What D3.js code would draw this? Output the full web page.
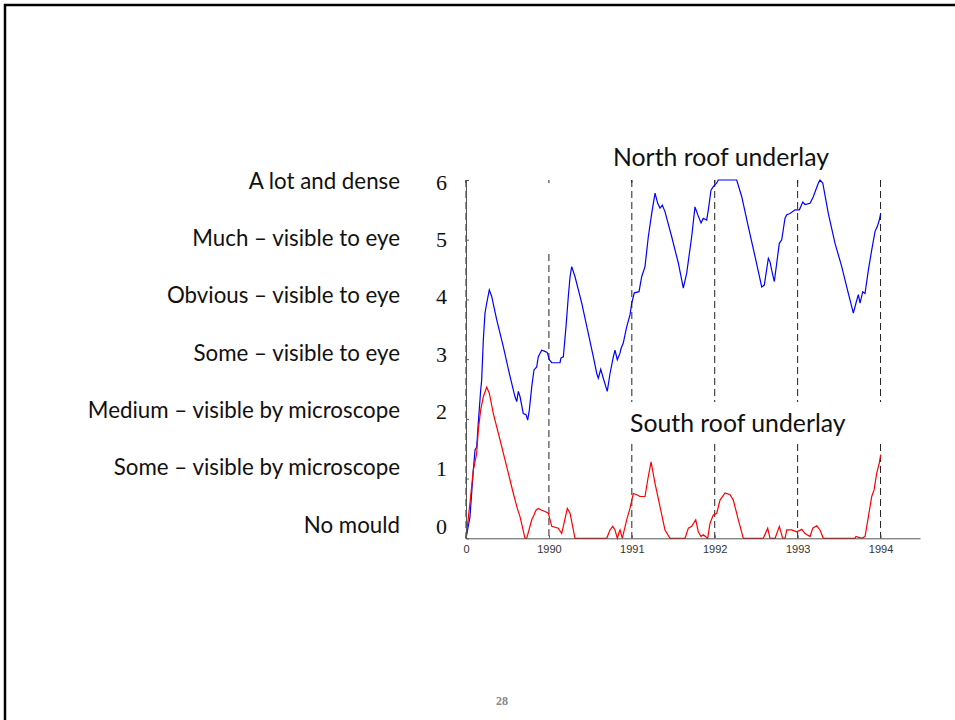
<!doctype html>
<html lang="en">
  <head>
    <title>Mould growth in roof underlay</title>
    <style>
      body {
        margin: 0;
        background: #fff;
      }
      svg {
        display: block;
      }
      .cat {
        font-family: Lato, "Open Sans", sans-serif;
        font-size: 22.3px;
        fill: #111;
      }
      .ttl {
        font-family: Lato, "Open Sans", sans-serif;
        font-size: 24.8px;
        fill: #111;
      }
    </style>
  </head>
  <body>
    <div id="chart"></div>

    <script src="https://cdn.jsdelivr.net/npm/d3@7"></script>
    <script>
      // mould levels, bottom to top
      const levels = [
        'No mould',
        'Some \u2013 visible by microscope',
        'Medium \u2013 visible by microscope',
        'Some \u2013 visible to eye',
        'Obvious \u2013 visible to eye',
        'Much \u2013 visible to eye',
        'A lot and dense'
      ]
      const levelNumbers = ['0', '1', '2', '3', '4', '5', '6']
      const yearTicks = [0, 1, 2, 3, 4, 5]
      const yearLabels = ['0', '1990', '1991', '1992', '1993', '1994']

      // [years since start, mould level]
      const northRoof = [
        [0, 0], [0.048, 0.36], [0.088, 1.14], [0.109, 1.48], [0.129, 1.53], [0.148, 1.93],
        [0.177, 2.48], [0.189, 2.65], [0.209, 3.32], [0.229, 3.77], [0.25, 3.94], [0.281, 4.16],
        [0.31, 4.05], [0.37, 3.66], [0.45, 3.21], [0.531, 2.71], [0.591, 2.37], [0.612, 2.29],
        [0.631, 2.46], [0.652, 2.37], [0.691, 2.09], [0.724, 2.07], [0.744, 1.98], [0.764, 2.15],
        [0.793, 2.54], [0.82, 2.82], [0.853, 2.87], [0.872, 3.04], [0.913, 3.15], [0.953, 3.13],
        [0.981, 3.11], [1.005, 2.99], [1.034, 2.94], [1.134, 2.94], [1.146, 3.02], [1.174, 3.04],
        [1.206, 3.54], [1.234, 4.05], [1.255, 4.38], [1.275, 4.55], [1.315, 4.38], [1.396, 3.94],
        [1.475, 3.43], [1.536, 3.04], [1.577, 2.76], [1.596, 2.68], [1.625, 2.83], [1.656, 2.68],
        [1.704, 2.46], [1.737, 2.76], [1.777, 3.04], [1.797, 3.15], [1.825, 2.99], [1.858, 3.1],
        [1.87, 3.18], [1.897, 3.27], [1.938, 3.54], [1.978, 3.74], [1.999, 3.94], [2.03, 4.11],
        [2.087, 4.13], [2.119, 4.38], [2.159, 4.55], [2.199, 5.05], [2.24, 5.44], [2.28, 5.78],
        [2.312, 5.61], [2.34, 5.53], [2.368, 5.58], [2.4, 5.47], [2.481, 5.05], [2.561, 4.61],
        [2.621, 4.19], [2.662, 4.44], [2.722, 5.05], [2.762, 5.55], [2.795, 5.42], [2.835, 5.28],
        [2.862, 5.36], [2.903, 5.33], [2.923, 5.5], [2.955, 5.83], [2.983, 5.89], [3.024, 5.95],
        [3.043, 6], [3.265, 6], [3.326, 5.72], [3.405, 5.22], [3.486, 4.72], [3.567, 4.21],
        [3.598, 4.24], [3.647, 4.69], [3.667, 4.63], [3.687, 4.49], [3.719, 4.3], [3.748, 4.61],
        [3.779, 4.94], [3.808, 5], [3.848, 5.36], [3.869, 5.42], [3.908, 5.44], [3.969, 5.5],
        [4.021, 5.5], [4.062, 5.63], [4.089, 5.59], [4.15, 5.61], [4.189, 5.72], [4.25, 5.95],
        [4.27, 6], [4.303, 5.95], [4.37, 5.44], [4.451, 4.94], [4.532, 4.55], [4.592, 4.21],
        [4.672, 3.77], [4.704, 3.94], [4.732, 4.08], [4.753, 3.94], [4.785, 4.13], [4.813, 4.1],
        [4.853, 4.49], [4.894, 4.83], [4.934, 5.14], [4.961, 5.22], [4.985, 5.33], [5.002, 5.44]
      ]

      const southRoof = [
        [0, 0], [0.048, 0.59], [0.088, 1.14], [0.129, 1.42], [0.148, 1.81], [0.177, 2.15],
        [0.209, 2.37], [0.25, 2.53], [0.281, 2.43], [0.329, 2.09], [0.41, 1.65], [0.491, 1.2],
        [0.571, 0.75], [0.619, 0.5], [0.652, 0.36], [0.712, 0], [0.732, 0], [0.793, 0.31],
        [0.82, 0.39], [0.844, 0.47], [0.872, 0.5], [0.913, 0.47], [0.953, 0.45], [0.993, 0.42],
        [1.034, 0.2], [1.113, 0.17], [1.154, 0.08], [1.182, 0.25], [1.222, 0.5], [1.255, 0.42],
        [1.315, 0], [1.697, 0], [1.737, 0.14], [1.77, 0.2], [1.797, 0.14], [1.825, 0],
        [1.849, 0.11], [1.858, 0.14], [1.885, 0], [1.938, 0.31], [1.978, 0.5], [2.018, 0.75],
        [2.059, 0.73], [2.099, 0.7], [2.159, 0.7], [2.192, 0.98], [2.232, 1.28], [2.28, 0.92],
        [2.34, 0.53], [2.4, 0.14], [2.461, 0], [2.642, 0], [2.682, 0.17], [2.722, 0.2],
        [2.771, 0.31], [2.802, 0.11], [2.835, 0.03], [2.862, 0.06], [2.915, 0], [2.943, 0.25],
        [2.983, 0.39], [3.024, 0.42], [3.064, 0.64], [3.124, 0.76], [3.185, 0.73], [3.224, 0.64],
        [3.285, 0.31], [3.345, 0], [3.586, 0], [3.639, 0.17], [3.667, 0], [3.728, 0],
        [3.779, 0.2], [3.82, 0], [3.848, 0], [3.869, 0.14], [3.929, 0.14], [3.989, 0.11],
        [4.05, 0.15], [4.089, 0.08], [4.15, 0.03], [4.183, 0.17], [4.231, 0.21], [4.27, 0.14],
        [4.31, 0], [4.692, 0], [4.704, 0.03], [4.773, 0], [4.813, 0.03], [4.853, 0.36],
        [4.894, 0.7], [4.922, 0.81], [4.954, 1.09], [4.985, 1.26], [5.002, 1.4]
      ]

      const width = 955
      const height = 720

      const x = d3.scaleLinear().domain([0, 5.476]).range([466, 920])
      const y = d3.scaleLinear().domain([0, 6]).range([538.3, 180])
      // the slide text down the left sits on its own, slightly tighter spacing
      const yText = d3.scaleLinear().domain([0, 6]).range([526, 182])

      const svg = d3.select('#chart')
        .append('svg')
        .attr('width', width)
        .attr('height', height)

      // slide frame
      svg.append('path')
        .attr('d', 'M5,720V5H955')
        .attr('fill', 'none')
        .attr('stroke', '#000')
        .attr('stroke-width', 2.5)

      // dashed year markers (the 1990 one is shorter)
      svg.append('g').selectAll('line')
        .data(yearTicks)
        .enter()
        .append('line')
          .attr('x1', d => x(d))
          .attr('x2', d => x(d))
          .attr('y1', d => d === 1 ? y(4.76) : y(6))
          .attr('y2', y(0))
          .attr('stroke', '#222')
          .attr('stroke-dasharray', '7,4')

      // small ticks along the top
      svg.append('g').selectAll('line')
        .data(yearTicks)
        .enter()
        .append('line')
          .attr('x1', d => x(d))
          .attr('x2', d => x(d))
          .attr('y1', y(6))
          .attr('y2', y(6) + 3)
          .attr('stroke', '#222')

      const line = d3.line().x(d => x(d[0])).y(d => y(d[1]))

      svg.append('path')
        .datum(northRoof)
        .attr('d', line)
        .attr('fill', 'none')
        .attr('stroke', '#0000ff')
        .attr('stroke-width', 1.2)

      // label box hides the dashed lines behind the south label
      svg.append('rect')
        .attr('x', 624)
        .attr('y', 402)
        .attr('width', 266)
        .attr('height', 41)
        .attr('fill', '#fff')

      svg.append('path')
        .datum(southRoof)
        .attr('d', line)
        .attr('fill', 'none')
        .attr('stroke', '#ff0000')
        .attr('stroke-width', 1.2)

      // y axis (ticks only)
      const yAxis = svg.append('g')
        .attr('transform', `translate(${x(0)},0)`)
        .call(d3.axisLeft(y).tickValues(d3.range(7)).tickSizeInner(-3).tickSizeOuter(0).tickFormat(''))
      yAxis.select('.domain').attr('stroke', '#555')
      yAxis.selectAll('.tick line').attr('stroke', '#555')

      // x axis
      const xAxis = svg.append('g')
        .attr('transform', `translate(0,${y(0)})`)
        .call(d3.axisBottom(x).tickValues(yearTicks).tickSizeInner(-3).tickSizeOuter(0).tickPadding(7).tickFormat(d => yearLabels[d]))
      xAxis.select('.domain').attr('stroke', '#555')
      xAxis.selectAll('.tick line').attr('stroke', '#555')
      xAxis.selectAll('.tick text')
        .attr('font-family', 'Arial, "Liberation Sans", sans-serif')
        .attr('font-size', 11)
        .attr('fill', '#333')

      // level numbers
      svg.append('g').selectAll('text')
        .data(levelNumbers)
        .enter()
        .append('text')
          .attr('x', 447)
          .attr('y', (d, i) => yText(i))
          .attr('dy', '0.35em')
          .attr('text-anchor', 'end')
          .attr('font-family', '"Liberation Serif", "Times New Roman", serif')
          .attr('font-size', 22)
          .attr('fill', '#111')
          .text(d => d)

      // mould level descriptions
      svg.append('g').selectAll('text')
        .data(levels)
        .enter()
        .append('text')
          .attr('class', 'cat')
          .attr('x', 400)
          .attr('y', (d, i) => yText(i) - 1)
          .attr('dy', '0.35em')
          .attr('text-anchor', 'end')
          .text(d => d)

      svg.append('text')
        .attr('class', 'ttl')
        .attr('x', 613)
        .attr('y', 166)
        .text('North roof underlay')

      svg.append('text')
        .attr('class', 'ttl')
        .attr('x', 630)
        .attr('y', 432)
        .text('South roof underlay')

      // slide number
      svg.append('text')
        .attr('x', 502)
        .attr('y', 705)
        .attr('text-anchor', 'middle')
        .attr('font-family', '"Liberation Serif", serif')
        .attr('font-weight', 'bold')
        .attr('font-size', 12)
        .attr('fill', '#888')
        .text('28')
    </script>
  </body>
</html>
